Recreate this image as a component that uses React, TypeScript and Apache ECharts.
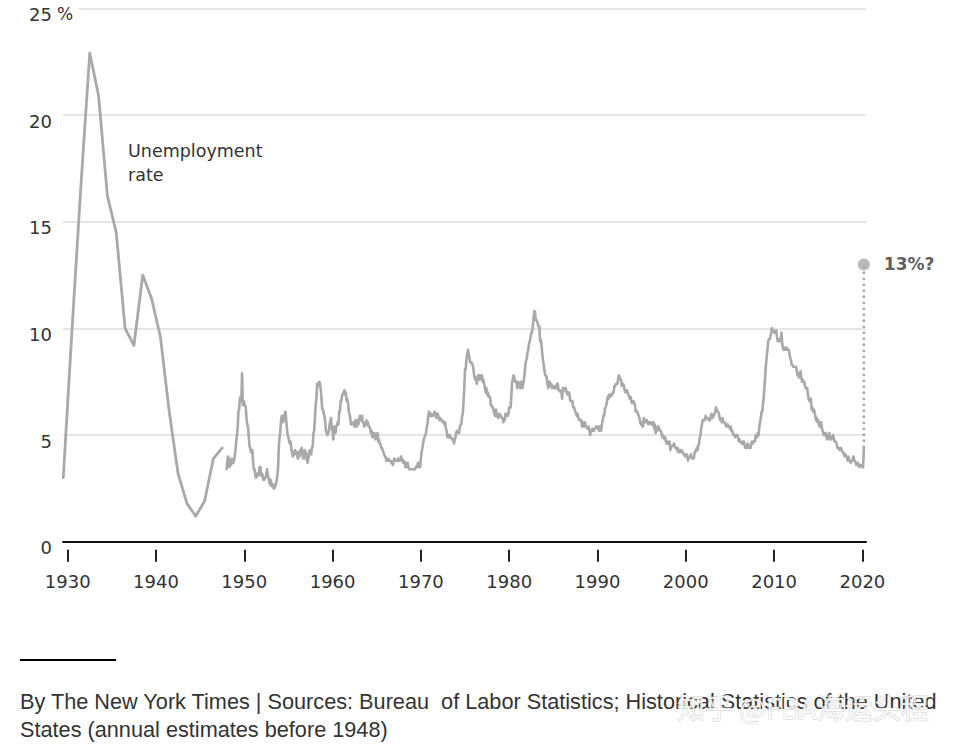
import React, { useEffect, useRef } from "react";
import * as echarts from "echarts";

// Annual estimates before 1948 (plotted at mid-year)
const annualYears = [1929, 1930, 1931, 1932, 1933, 1934, 1935, 1936, 1937, 1938, 1939, 1940, 1941, 1942, 1943, 1944, 1945, 1946, 1947];
const annualRates = [3.0, 10.0, 16.7, 22.9, 20.9, 16.2, 14.5, 10.0, 9.2, 12.5, 11.4, 9.6, 6.1, 3.2, 1.8, 1.2, 1.9, 3.9, 4.4];

// Monthly rates, January of the first year onward
const monthly1948 = [
  3.4, 3.8, 4.0, 3.9, 3.5, 3.6, 3.6, 3.9, 3.8, 3.7, 3.8, 4.0,
  4.3, 4.7, 5.0, 5.3, 6.1, 6.2, 6.7, 6.8, 6.6, 7.9, 6.4, 6.6,
  6.5, 6.4, 6.3, 5.8, 5.5, 5.4, 5.0, 4.5, 4.4, 4.2, 4.2, 4.3,
  3.7, 3.4, 3.4, 3.1, 3.0, 3.2, 3.1, 3.1, 3.3, 3.5, 3.5, 3.1,
  3.2, 3.1, 2.9, 2.9, 3.0, 3.0, 3.2, 3.4, 3.1, 3.0, 2.8, 2.7,
  2.9, 2.6, 2.6, 2.7, 2.5, 2.5, 2.6, 2.7, 2.9, 3.1, 3.5, 4.5,
  4.9, 5.2, 5.7, 5.9, 5.9, 5.6, 5.8, 6.0, 6.1, 5.7, 5.3, 5.0,
  4.9, 4.7, 4.6, 4.7, 4.3, 4.2, 4.0, 4.2, 4.1, 4.3, 4.2, 4.2,
  4.0, 3.9, 4.2, 4.0, 4.3, 4.3, 4.4, 4.1, 3.9, 3.9, 4.3, 4.2,
  4.2, 3.9, 3.7, 3.9, 4.1, 4.3, 4.2, 4.1, 4.4, 4.5, 5.1, 5.2,
  5.8, 6.4, 6.7, 7.4, 7.4, 7.3, 7.5, 7.4, 7.1, 6.7, 6.2, 6.2,
  6.0, 5.9, 5.6, 5.2, 5.1, 5.0, 5.1, 5.2, 5.5, 5.7, 5.8, 5.3,
];
const monthly1960 = [
  5.2, 4.8, 5.4, 5.2, 5.1, 5.4, 5.5, 5.6, 5.5, 6.1, 6.1, 6.6,
  6.6, 6.9, 6.9, 7.0, 7.1, 6.9, 7.0, 6.6, 6.7, 6.5, 6.1, 6.0,
  5.8, 5.5, 5.6, 5.6, 5.5, 5.5, 5.4, 5.7, 5.6, 5.4, 5.7, 5.5,
  5.7, 5.9, 5.7, 5.7, 5.9, 5.6, 5.6, 5.4, 5.5, 5.5, 5.7, 5.5,
  5.6, 5.4, 5.4, 5.3, 5.1, 5.2, 4.9, 5.0, 5.1, 5.1, 4.8, 5.0,
  4.9, 5.1, 4.7, 4.8, 4.6, 4.6, 4.4, 4.4, 4.3, 4.2, 4.1, 4.0,
  4.0, 3.8, 3.8, 3.8, 3.9, 3.8, 3.8, 3.8, 3.7, 3.7, 3.6, 3.8,
  3.9, 3.8, 3.8, 3.8, 3.8, 3.9, 3.8, 3.8, 3.8, 4.0, 3.9, 3.8,
  3.7, 3.8, 3.7, 3.5, 3.5, 3.7, 3.7, 3.5, 3.4, 3.4, 3.4, 3.4,
  3.4, 3.4, 3.4, 3.4, 3.4, 3.5, 3.5, 3.5, 3.7, 3.7, 3.5, 3.5,
];
const monthly1970 = [
  3.9, 4.2, 4.4, 4.6, 4.8, 4.9, 5.0, 5.1, 5.4, 5.5, 5.9, 6.1,
  5.9, 5.9, 6.0, 5.9, 5.9, 5.9, 6.0, 6.1, 6.0, 5.8, 6.0, 6.0,
  5.8, 5.7, 5.8, 5.7, 5.7, 5.7, 5.6, 5.6, 5.5, 5.6, 5.3, 5.2,
  4.9, 5.0, 4.9, 5.0, 4.9, 4.9, 4.8, 4.8, 4.8, 4.6, 4.8, 4.9,
  5.1, 5.2, 5.1, 5.1, 5.1, 5.4, 5.5, 5.5, 5.9, 6.0, 6.6, 7.2,
  8.1, 8.1, 8.6, 8.8, 9.0, 8.8, 8.6, 8.4, 8.4, 8.4, 8.3, 8.2,
  7.9, 7.7, 7.6, 7.7, 7.4, 7.6, 7.8, 7.8, 7.6, 7.7, 7.8, 7.8,
  7.5, 7.6, 7.4, 7.2, 7.0, 7.2, 6.9, 7.0, 6.8, 6.8, 6.8, 6.4,
  6.4, 6.3, 6.3, 6.1, 6.0, 5.9, 6.2, 5.9, 6.0, 5.8, 5.9, 6.0,
  5.9, 5.9, 5.8, 5.8, 5.6, 5.7, 5.7, 6.0, 5.9, 6.0, 5.9, 6.0,
];
const monthly1980 = [
  6.3, 6.3, 6.3, 6.9, 7.5, 7.6, 7.8, 7.7, 7.5, 7.5, 7.5, 7.2,
  7.5, 7.4, 7.4, 7.2, 7.5, 7.5, 7.2, 7.4, 7.6, 7.9, 8.3, 8.5,
  8.6, 8.9, 9.0, 9.3, 9.4, 9.6, 9.8, 9.8, 10.1, 10.4, 10.8, 10.8,
  10.4, 10.4, 10.3, 10.2, 10.1, 10.1, 9.4, 9.5, 9.2, 8.8, 8.5, 8.3,
  8.0, 7.8, 7.8, 7.7, 7.4, 7.2, 7.5, 7.5, 7.3, 7.4, 7.2, 7.3,
  7.3, 7.2, 7.2, 7.3, 7.2, 7.4, 7.4, 7.1, 7.1, 7.1, 7.0, 7.0,
  6.7, 7.2, 7.2, 7.1, 7.2, 7.2, 7.0, 6.9, 7.0, 7.0, 6.9, 6.6,
  6.6, 6.6, 6.6, 6.3, 6.3, 6.2, 6.1, 6.0, 5.9, 6.0, 5.8, 5.7,
  5.7, 5.7, 5.7, 5.4, 5.6, 5.4, 5.4, 5.6, 5.4, 5.4, 5.3, 5.3,
  5.4, 5.2, 5.0, 5.2, 5.2, 5.3, 5.2, 5.2, 5.3, 5.3, 5.4, 5.4,
];
const monthly1990 = [
  5.4, 5.3, 5.2, 5.4, 5.4, 5.2, 5.5, 5.7, 5.9, 5.9, 6.2, 6.3,
  6.4, 6.6, 6.8, 6.7, 6.9, 6.9, 6.8, 6.9, 6.9, 7.0, 7.0, 7.3,
  7.3, 7.4, 7.4, 7.4, 7.6, 7.8, 7.7, 7.6, 7.6, 7.3, 7.4, 7.4,
  7.3, 7.1, 7.0, 7.1, 7.1, 7.0, 6.9, 6.8, 6.7, 6.8, 6.6, 6.5,
  6.6, 6.6, 6.5, 6.4, 6.1, 6.1, 6.1, 6.0, 5.9, 5.8, 5.6, 5.5,
  5.6, 5.4, 5.4, 5.8, 5.6, 5.6, 5.7, 5.7, 5.6, 5.5, 5.6, 5.6,
  5.6, 5.5, 5.5, 5.6, 5.6, 5.3, 5.5, 5.1, 5.2, 5.2, 5.4, 5.4,
  5.3, 5.2, 5.2, 5.1, 4.9, 5.0, 4.9, 4.8, 4.9, 4.7, 4.6, 4.7,
  4.6, 4.6, 4.7, 4.3, 4.4, 4.5, 4.5, 4.5, 4.6, 4.5, 4.4, 4.4,
  4.3, 4.4, 4.2, 4.3, 4.2, 4.3, 4.3, 4.2, 4.2, 4.1, 4.1, 4.0,
];
const monthly2000 = [
  4.0, 4.1, 4.0, 3.8, 4.0, 4.0, 4.0, 4.1, 3.9, 3.9, 3.9, 3.9,
  4.2, 4.2, 4.3, 4.4, 4.3, 4.5, 4.6, 4.9, 5.0, 5.3, 5.5, 5.7,
  5.7, 5.7, 5.7, 5.9, 5.8, 5.8, 5.8, 5.7, 5.7, 5.7, 5.9, 6.0,
  5.8, 5.9, 5.9, 6.0, 6.1, 6.3, 6.2, 6.1, 6.1, 6.0, 5.8, 5.7,
  5.7, 5.6, 5.8, 5.6, 5.6, 5.6, 5.5, 5.4, 5.4, 5.5, 5.4, 5.4,
  5.3, 5.4, 5.2, 5.2, 5.1, 5.0, 5.0, 4.9, 5.0, 5.0, 5.0, 4.9,
  4.7, 4.8, 4.7, 4.7, 4.6, 4.6, 4.7, 4.7, 4.5, 4.4, 4.5, 4.4,
  4.6, 4.5, 4.4, 4.5, 4.4, 4.6, 4.7, 4.6, 4.7, 4.7, 4.7, 5.0,
  5.0, 4.9, 5.1, 5.0, 5.4, 5.6, 5.8, 6.1, 6.1, 6.5, 6.8, 7.3,
  7.8, 8.3, 8.7, 9.0, 9.4, 9.5, 9.5, 9.6, 9.8, 10.0, 9.9, 9.9,
];
const monthly2010 = [
  9.8, 9.8, 9.9, 9.9, 9.6, 9.4, 9.4, 9.5, 9.5, 9.4, 9.8, 9.3,
  9.1, 9.0, 9.0, 9.1, 9.0, 9.1, 9.0, 9.0, 9.0, 8.8, 8.6, 8.5,
  8.3, 8.3, 8.2, 8.2, 8.2, 8.2, 8.2, 8.0, 7.8, 7.8, 7.7, 7.9,
  8.0, 7.7, 7.5, 7.6, 7.5, 7.5, 7.3, 7.2, 7.2, 7.2, 6.9, 6.7,
  6.6, 6.7, 6.7, 6.2, 6.3, 6.1, 6.2, 6.1, 5.9, 5.7, 5.8, 5.6,
  5.7, 5.5, 5.4, 5.4, 5.6, 5.3, 5.2, 5.1, 5.0, 5.0, 5.1, 5.0,
  4.8, 4.9, 5.0, 5.1, 4.8, 4.9, 4.8, 4.9, 5.0, 4.9, 4.7, 4.7,
  4.7, 4.6, 4.4, 4.4, 4.4, 4.3, 4.3, 4.4, 4.3, 4.2, 4.2, 4.1,
  4.0, 4.1, 4.0, 4.0, 3.8, 4.0, 3.8, 3.8, 3.7, 3.8, 3.8, 3.9,
  4.0, 3.8, 3.8, 3.7, 3.6, 3.6, 3.7, 3.6, 3.5, 3.6, 3.6, 3.6,
  3.5, 3.5, 4.4,
];
const monthlyBlocks: [number, number[]][] = [
  [1948, monthly1948],
  [1960, monthly1960],
  [1970, monthly1970],
  [1980, monthly1980],
  [1990, monthly1990],
  [2000, monthly2000],
  [2010, monthly2010],
];

const projectionRate = 13;
const projectionLabel = "13%?";
const tickYears = [1930, 1940, 1950, 1960, 1970, 1980, 1990, 2000, 2010, 2020];
const yTicks = [0, 5, 10, 15, 20, 25];

export default function App() {
  const ref = useRef<HTMLDivElement>(null);

  useEffect(() => {
    if (!ref.current) return;
    const chart = echarts.init(ref.current, null, { renderer: "svg" });

    const annualData = annualYears.map((y, i) => [y + 0.5, annualRates[i]]);
    const monthlyData: number[][] = [];
    monthlyBlocks.forEach(([start, arr]) => {
      arr.forEach((v, i) => monthlyData.push([start + i / 12, v]));
    });
    const last = monthlyData[monthlyData.length - 1];
    const projX = last[0];

    const gray = "#a9a9a9";
    const textColor = "#333333";
    const xMin = 1929.47;
    const xMax = 2020.41;

    chart.setOption({
      animation: false,
      backgroundColor: "#ffffff",
      grid: { left: 63, right: 90, top: 8.3, bottom: 205.2, containLabel: false },
      xAxis: [
        {
          type: "value",
          min: xMin,
          max: xMax,
          axisLine: { show: true, onZero: true, lineStyle: { color: "#111", width: 2 } },
          axisTick: { show: false },
          axisLabel: { show: false },
          splitLine: { show: false },
        },
        {
          type: "value",
          min: xMin,
          max: xMax,
          position: "bottom",
          offset: 8,
          axisLine: { show: false },
          axisTick: {
            show: true,
            length: 12,
            customValues: tickYears,
            lineStyle: { color: "#222", width: 2 },
          },
          axisLabel: {
            show: true,
            customValues: tickYears,
            margin: 23,
            color: textColor,
            fontFamily: "DejaVu Sans",
            fontSize: 18,
            formatter: (v: number) => String(v),
          },
          splitLine: { show: false },
        },
      ],
      yAxis: {
        type: "value",
        min: 0,
        max: 25,
        interval: 5,
        axisLine: { show: false },
        axisTick: { show: false },
        splitLine: { show: true, lineStyle: { color: "#dcdcdc", width: 1.5 } },
        axisLabel: {
          show: true,
          margin: 11,
          color: textColor,
          fontFamily: "DejaVu Sans",
          fontSize: 18,
          verticalAlign: "top",
          lineHeight: 12,
          formatter: (v: number) => (yTicks.includes(v) ? String(v) : ""),
        },
      },
      series: [
        {
          type: "line",
          xAxisIndex: 0,
          data: annualData,
          showSymbol: false,
          symbol: "none",
          lineStyle: { color: gray, width: 2.8, cap: "round", join: "round" },
          z: 3,
        },
        {
          type: "line",
          xAxisIndex: 0,
          data: monthlyData,
          showSymbol: false,
          symbol: "none",
          lineStyle: { color: gray, width: 2.6, cap: "round", join: "round" },
          z: 3,
        },
        {
          type: "line",
          xAxisIndex: 0,
          data: [
            [projX, last[1]],
            [projX, projectionRate],
          ],
          showSymbol: false,
          symbol: "none",
          lineStyle: { color: gray, width: 2.5, type: [2.5, 3.5] },
          z: 2,
        },
        {
          type: "scatter",
          xAxisIndex: 0,
          data: [[projX, projectionRate]],
          symbol: "circle",
          symbolSize: 12,
          itemStyle: { color: gray },
          label: {
            show: true,
            position: "right",
            distance: 14,
            formatter: projectionLabel,
            color: textColor,
            fontFamily: "DejaVu Sans",
            fontWeight: "bold",
            fontSize: 17,
          },
          z: 4,
        },
      ],
      graphic: [
        {
          type: "rect",
          z: 100,
          shape: { x: 60, y: 4, width: 19, height: 9 },
          style: { fill: "#ffffff" },
        },
        {
          type: "text",
          z: 101,
          x: 57,
          y: 13.5,
          style: {
            text: "%",
            font: "17px 'DejaVu Sans'",
            fill: textColor,
            verticalAlign: "middle",
          },
        },
        {
          type: "text",
          z: 101,
          x: 128,
          y: 139,
          style: {
            text: "Unemployment\nrate",
            font: "17.5px 'DejaVu Sans'",
            lineHeight: 24,
            fill: textColor,
            verticalAlign: "top",
          },
        },
        {
          type: "line",
          z: 101,
          shape: { x1: 20, y1: 660, x2: 116, y2: 660 },
          style: { stroke: "#000", lineWidth: 2 },
        },
        {
          type: "text",
          z: 101,
          x: 20,
          y: 701,
          style: {
            text: "By The New York Times | Sources: Bureau  of Labor Statistics; Historical Statistics of the United",
            font: "21.7px 'Liberation Sans'",
            fill: textColor,
            verticalAlign: "middle",
          },
        },
        {
          type: "text",
          z: 101,
          x: 20,
          y: 729,
          style: {
            text: "States (annual estimates before 1948)",
            font: "21.7px 'Liberation Sans'",
            fill: textColor,
            verticalAlign: "middle",
          },
        },
        {
          type: "text",
          z: 102,
          x: 677,
          y: 707,
          style: {
            text: "知乎 @FBA海运头程",
            font: "28px 'Noto Sans CJK SC'",
            fill: "rgba(255,255,255,0.82)",
            stroke: "rgba(170,170,170,0.55)",
            lineWidth: 1,
            verticalAlign: "middle",
          },
        },
      ],
    });

    return () => chart.dispose();
  }, []);

  return (
    <div
      ref={ref}
      style={{ position: "fixed", left: 0, top: 0, width: 956, height: 747, background: "#fff" }}
    />
  );
}
